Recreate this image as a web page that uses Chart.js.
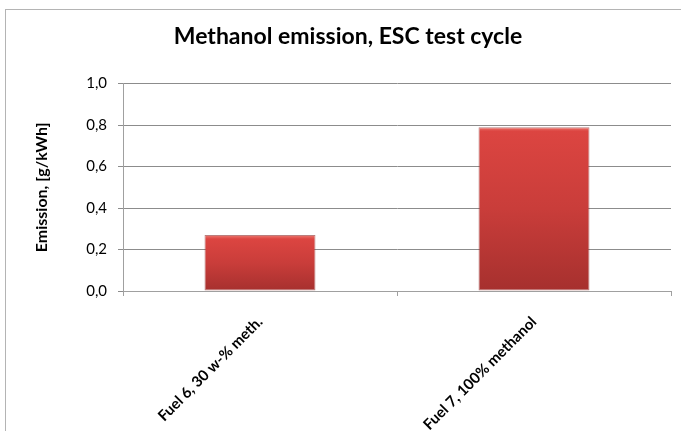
<!DOCTYPE html>
<html>
<head>
<meta charset="utf-8">
<script src="https://cdn.jsdelivr.net/npm/chart.js@4"></script>
<style>
  html, body { margin: 0; padding: 0; background: #fff; overflow: hidden; }
  #frame {
    position: absolute;
    left: 5px;
    top: 9px;
    width: 684px;
    height: 440px;
    border: 1px solid #b4b4b4;
  }
  #chart { position: absolute; left: 0; top: 0; }
</style>
</head>
<body>
<div id="frame">
  <canvas id="chart" width="684" height="440"></canvas>
</div>
<script>
const categories = ["Fuel 6, 30 w-% meth.", "Fuel 7, 100% methanol"];
const emission = [0.27, 0.79];
const yMin = 0;
const yMax = 1;
const yStep = 0.2;

const FONT = "Lato, 'Open Sans', sans-serif";

function barGradient(ctx) {
  const chart = ctx.chart;
  if (!chart.chartArea || ctx.raw == null) return "#c83b39";
  const y = chart.scales.y;
  const top = y.getPixelForValue(ctx.raw);
  const bottom = y.getPixelForValue(0);
  const h = Math.max(bottom - top, 1);
  const g = chart.ctx.createLinearGradient(0, top, 0, bottom);
  const edge = Math.min(4 / h, 0.2);
  g.addColorStop(0, "#ec7a72");
  g.addColorStop(edge, "#dc4541");
  g.addColorStop(0.5, "#c93d3a");
  g.addColorStop(1, "#a6302e");
  return g;
}

new Chart(document.getElementById("chart"), {
  type: "bar",
  data: {
    labels: categories,
    datasets: [{
      label: "Emission",
      data: emission,
      backgroundColor: barGradient,
      borderColor: "rgba(140, 40, 38, 0.6)",
      borderWidth: 1,
      borderSkipped: false,
      categoryPercentage: 1,
      barPercentage: 0.405,
    }],
  },
  options: {
    responsive: false,
    animation: false,
    devicePixelRatio: 1,
    // equal side padding keeps the title centred on the frame
    layout: { padding: { left: 19, right: 19, top: 0, bottom: 0 } },
    plugins: {
      legend: { display: false },
      tooltip: { enabled: false },
      title: {
        display: true,
        text: "Methanol emission, ESC test cycle",
        color: "#000",
        font: { family: FONT, size: 23, weight: "bold", lineHeight: 1.2 },
        padding: { top: 13, bottom: 33 },
      },
    },
    scales: {
      x: {
        afterFit: (scale) => { scale.height = 159; },
        grid: {
          offset: true,
          drawOnChartArea: false,
          drawTicks: true,
          tickLength: 5,
          color: "#a0a0a0",
        },
        border: { display: true, color: "#a0a0a0", width: 1 },
        ticks: {
          color: "#000",
          minRotation: 45,
          maxRotation: 45,
          padding: 17,
          font: { family: FONT, size: 15, weight: "bold" },
        },
      },
      y: {
        min: yMin,
        max: yMax,
        afterFit: (scale) => { scale.width = 98; },
        grid: {
          color: "#8c8c8c",
          drawTicks: true,
          tickLength: 5,
        },
        border: { display: true, color: "#a0a0a0", width: 1 },
        ticks: {
          stepSize: yStep,
          color: "#000",
          padding: 11,
          font: { family: FONT, size: 15 },
          callback: (v) => v.toFixed(1).replace(".", ","),
        },
        title: {
          display: true,
          text: "Emission, [g/kWh]",
          color: "#000",
          font: { family: FONT, size: 16, weight: "bold", lineHeight: 1.2 },
          padding: { top: 7, bottom: 0 },
        },
      },
    },
  },
});
</script>
</body>
</html>
